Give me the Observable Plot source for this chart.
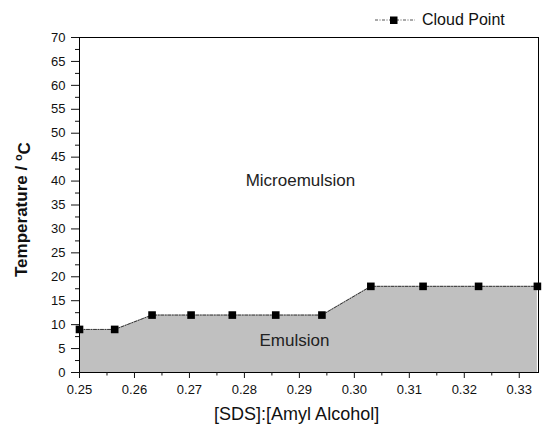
<!DOCTYPE html>
<html><head><meta charset="utf-8">
<script src="https://cdn.jsdelivr.net/npm/d3@7"></script>
<script src="https://cdn.jsdelivr.net/npm/@observablehq/plot@0.6"></script>
<style>
body{margin:0;background:#fff;font-family:"Liberation Sans",Arial,sans-serif}
#wrap{position:relative;width:553px;height:429px}
#legend{position:absolute;left:373px;top:10px;display:flex;align-items:center;font-size:16px;color:#111;line-height:20px}
#legend svg{margin-right:5px}
</style></head><body><div id="wrap"><div id="legend"></div></div>
<script>
// [SDS]:[Amyl Alcohol] ratios (1:4 ... 1:3)
const ratio = [0.25, 0.2564, 0.2632, 0.2703, 0.2778, 0.2857, 0.2941, 0.3030, 0.3125, 0.3226, 0.3333];
// Cloud point temperatures (°C)
const cloudPoint = [9, 9, 12, 12, 12, 12, 12, 18, 18, 18, 18];
const seriesName = "Cloud Point";
const yTicks = [0, 5, 10, 15, 20, 25, 30, 35, 40, 45, 50, 55, 60, 65, 70];
const yMinor = [2.5, 7.5, 12.5, 17.5, 22.5, 27.5, 32.5, 37.5, 42.5, 47.5, 52.5, 57.5, 62.5, 67.5];
const xTicks = [0.25, 0.26, 0.27, 0.28, 0.29, 0.30, 0.31, 0.32, 0.33];
const xMinor = [0.255, 0.265, 0.275, 0.285, 0.295, 0.305, 0.315, 0.325];
const regionNames = ["Microemulsion", "Emulsion"];
const regionX = [0.2902, 0.2891];
const regionY = [40.2, 6.7];
const xTitle = "[SDS]:[Amyl Alcohol]";
const yTitle = "Temperature / °C";

const data = ratio.map((x, i) => ({x, y: cloudPoint[i]}));
const regions = regionNames.map((t, i) => ({t, x: regionX[i], y: regionY[i]}));
const dash = "3,1.5,1,1.5";

const chart = Plot.plot({
  width: 553, height: 429,
  marginLeft: 79, marginRight: 15, marginTop: 37, marginBottom: 57,
  x: {domain: [0.25, 0.3335]},
  y: {domain: [0, 70]},
  style: {fontFamily: "'Liberation Sans', Arial, sans-serif", fontSize: "13px", color: "#111", background: "white"},
  marks: [
    Plot.areaY(data, {x: "x", y: "y", fill: "#c0c0c0"}),
    Plot.ruleX(data.slice(0, 1), {x: "x", y1: 0, y2: "y", stroke: "#444", strokeDasharray: "2,2"}),
    Plot.line(data, {x: "x", y: "y", stroke: "#333", strokeWidth: 1, strokeDasharray: dash}),
    Plot.dot(data, {x: "x", y: "y", symbol: "square", fill: "#000", stroke: "none", r: 4.3}),
    Plot.text(regions, {x: "x", y: "y", text: "t", fontSize: 17, fill: "#222"}),
    Plot.frame({stroke: "#000"}),
    Plot.axisX(xTicks, {tickSize: 6, tickPadding: 6, tickFormat: d3.format(".2f"), label: null, fontSize: 13}),
    Plot.axisX(xMinor, {tickSize: 3.5, tickFormat: () => "", label: null}),
    Plot.axisY(yTicks, {tickSize: 8, tickPadding: 6, label: null, fontSize: 13}),
    Plot.axisY(yMinor, {tickSize: 4, tickFormat: () => "", label: null}),
    Plot.text([xTitle], {x: [0.2895], frameAnchor: "bottom", dy: 47, fontSize: 18, fill: "#111"}),
    Plot.text([yTitle], {frameAnchor: "left", dx: -58, dy: 72, rotate: -90, textAnchor: "start", fontSize: 17, fontWeight: "bold", fill: "#111"})
  ]
});

// superscript "o" in the y title as in the original
chart.querySelectorAll("text").forEach(t => {
  if (t.textContent === yTitle) {
    t.textContent = "";
    const ns = "http://www.w3.org/2000/svg";
    const a = document.createElementNS(ns, "tspan"); a.textContent = "Temperature / ";
    const b = document.createElementNS(ns, "tspan"); b.textContent = "o"; b.setAttribute("dy", "-0.45em"); b.setAttribute("font-size", "11");
    const c = document.createElementNS(ns, "tspan"); c.textContent = "C"; c.setAttribute("dy", "0.45em");
    t.append(a, b, c);
  }
});

document.getElementById("wrap").prepend(chart);

const leg = document.getElementById("legend");
leg.innerHTML = `<svg width="44" height="12"><line x1="2" y1="6" x2="42" y2="6" stroke="#555" stroke-dasharray="${dash}"/><rect x="17" y="2.5" width="7.5" height="7.5" fill="#000"/></svg><span>${seriesName}</span>`;
</script></body></html>
